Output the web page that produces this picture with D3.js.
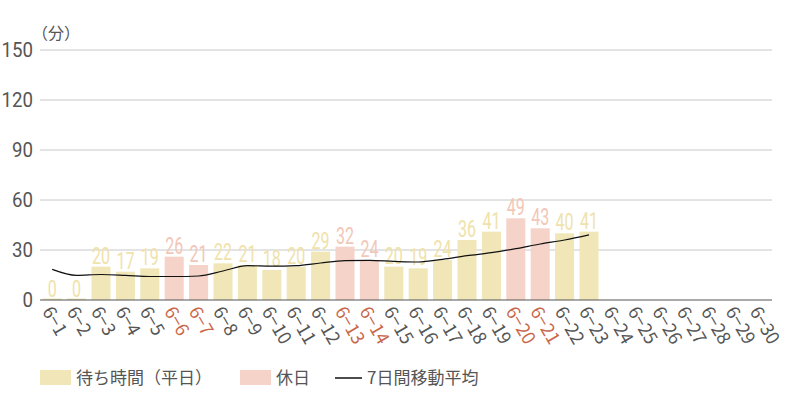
<!DOCTYPE html>
<html><head><meta charset="utf-8">
<script src="https://cdn.jsdelivr.net/npm/d3@7"></script>
<style>body{margin:0;background:#fff}svg{display:block}</style>
</head><body>
<script>
const categories = ["6-1","6-2","6-3","6-4","6-5","6-6","6-7","6-8","6-9","6-10","6-11","6-12","6-13","6-14","6-15","6-16","6-17","6-18","6-19","6-20","6-21","6-22","6-23","6-24","6-25","6-26","6-27","6-28","6-29","6-30"];
const waitTimes = [0,0,20,17,19,26,21,22,21,18,20,29,32,24,20,19,24,36,41,49,43,40,41,null,null,null,null,null,null,null];
const holidays = ["6-6","6-7","6-13","6-14","6-20","6-21"];
const movingAvg = [18.4,14.8,15.3,14.8,14.1,14.1,14.4,17.4,20.6,20.3,20.6,22.2,23.6,23.8,23.2,22.8,24.4,26.6,28.4,30.8,33.6,36.0,39.1];
const yTicks = [0,30,60,90,120,150];

const W=800,H=400, m={l:40,r:28,t:50,b:100};
const svg=d3.select("body").append("svg").attr("width",W).attr("height",H);
const x=d3.scaleBand().domain(categories).range([m.l,W-m.r]).paddingInner(0.22).paddingOuter(0.11);
const y=d3.scaleLinear().domain([0,150]).range([300,50]);
const wkFill="#f0e6b8", hoFill="#f5d3c8";
const isHol=d=>holidays.includes(d);

// grid
svg.append("g").selectAll("line").data(yTicks.filter(t=>t>0)).join("line")
 .attr("x1",m.l).attr("x2",W-m.r).attr("y1",d=>y(d)).attr("y2",d=>y(d))
 .attr("stroke","#c8c8c8").attr("stroke-width",1);
svg.append("g").selectAll("text").data(yTicks).join("text")
 .attr("x",33).attr("y",d=>y(d)+7).attr("text-anchor","end")
 .attr("font-family","Roboto, sans-serif").attr("font-size",20).attr("fill","#555")
 .attr("textLength",d=>String(d).length*10.5).attr("lengthAdjust","spacingAndGlyphs")
 .text(d=>d);
svg.append("text").attr("x",32).attr("y",39).attr("font-family","'Noto Sans CJK JP', sans-serif")
 .attr("font-size",16).attr("fill","#555").text("（分）");
const data=categories.map((c,i)=>({c,v:waitTimes[i]})).filter(d=>d.v!==null);
// bars
svg.append("g").selectAll("rect").data(data).join("rect")
 .attr("x",d=>x(d.c)).attr("width",x.bandwidth())
 .attr("y",d=>d.v===0?y(0)-1.5:y(d.v)).attr("height",d=>d.v===0?1.5:y(0)-y(d.v))
 .attr("fill",d=>isHol(d.c)?hoFill:wkFill);
// labels
svg.append("g").selectAll("text").data(data).join("text")
 .attr("x",d=>x(d.c)+x.bandwidth()/2).attr("y",d=>y(d.v)-3)
 .attr("text-anchor","middle").attr("font-family","Roboto, sans-serif").attr("font-size",23)
 .attr("fill",d=>isHol(d.c)?"#f2c7b8":"#efe2aa")
 .attr("textLength",d=>String(d.v).length*9).attr("lengthAdjust","spacingAndGlyphs")
 .text(d=>d.v);
// axis line
svg.append("line").attr("x1",m.l).attr("x2",W-m.r).attr("y1",y(0)).attr("y2",y(0)).attr("stroke","#555").attr("stroke-width",1.2);
// moving average
const line=d3.line().x((d,i)=>x(categories[i])+x.bandwidth()/2).y(d=>y(d)).curve(d3.curveMonotoneX);
svg.append("path").attr("d",line(movingAvg)).attr("fill","none").attr("stroke","#111").attr("stroke-width",1.2);
// x labels
svg.append("g").selectAll("text").data(categories).join("text")
 .attr("transform",d=>`translate(${x(d)+x.bandwidth()/2-5},${y(0)+8}) rotate(60)`)
 .attr("font-family","'Noto Sans CJK JP', sans-serif").attr("font-size",18).attr("dy","0.35em")
 .attr("fill",d=>isHol(d)?"#c8674a":"#555").text(d=>d.replace("-","−"));
// legend
const lg=svg.append("g").attr("font-family","'Noto Sans CJK JP', sans-serif").attr("font-size",17).attr("fill","#555");
lg.append("rect").attr("x",40).attr("y",370).attr("width",31).attr("height",15).attr("fill",wkFill);
lg.append("text").attr("x",76).attr("y",384).text("待ち時間（平日）");
lg.append("rect").attr("x",240).attr("y",370).attr("width",31).attr("height",15).attr("fill",hoFill);
lg.append("text").attr("x",276).attr("y",384).text("休日");
lg.append("line").attr("x1",335).attr("x2",362).attr("y1",378).attr("y2",378).attr("stroke","#111").attr("stroke-width",1.5);
lg.append("text").attr("x",367).attr("y",384).text("7日間移動平均");
</script>
</body></html>
